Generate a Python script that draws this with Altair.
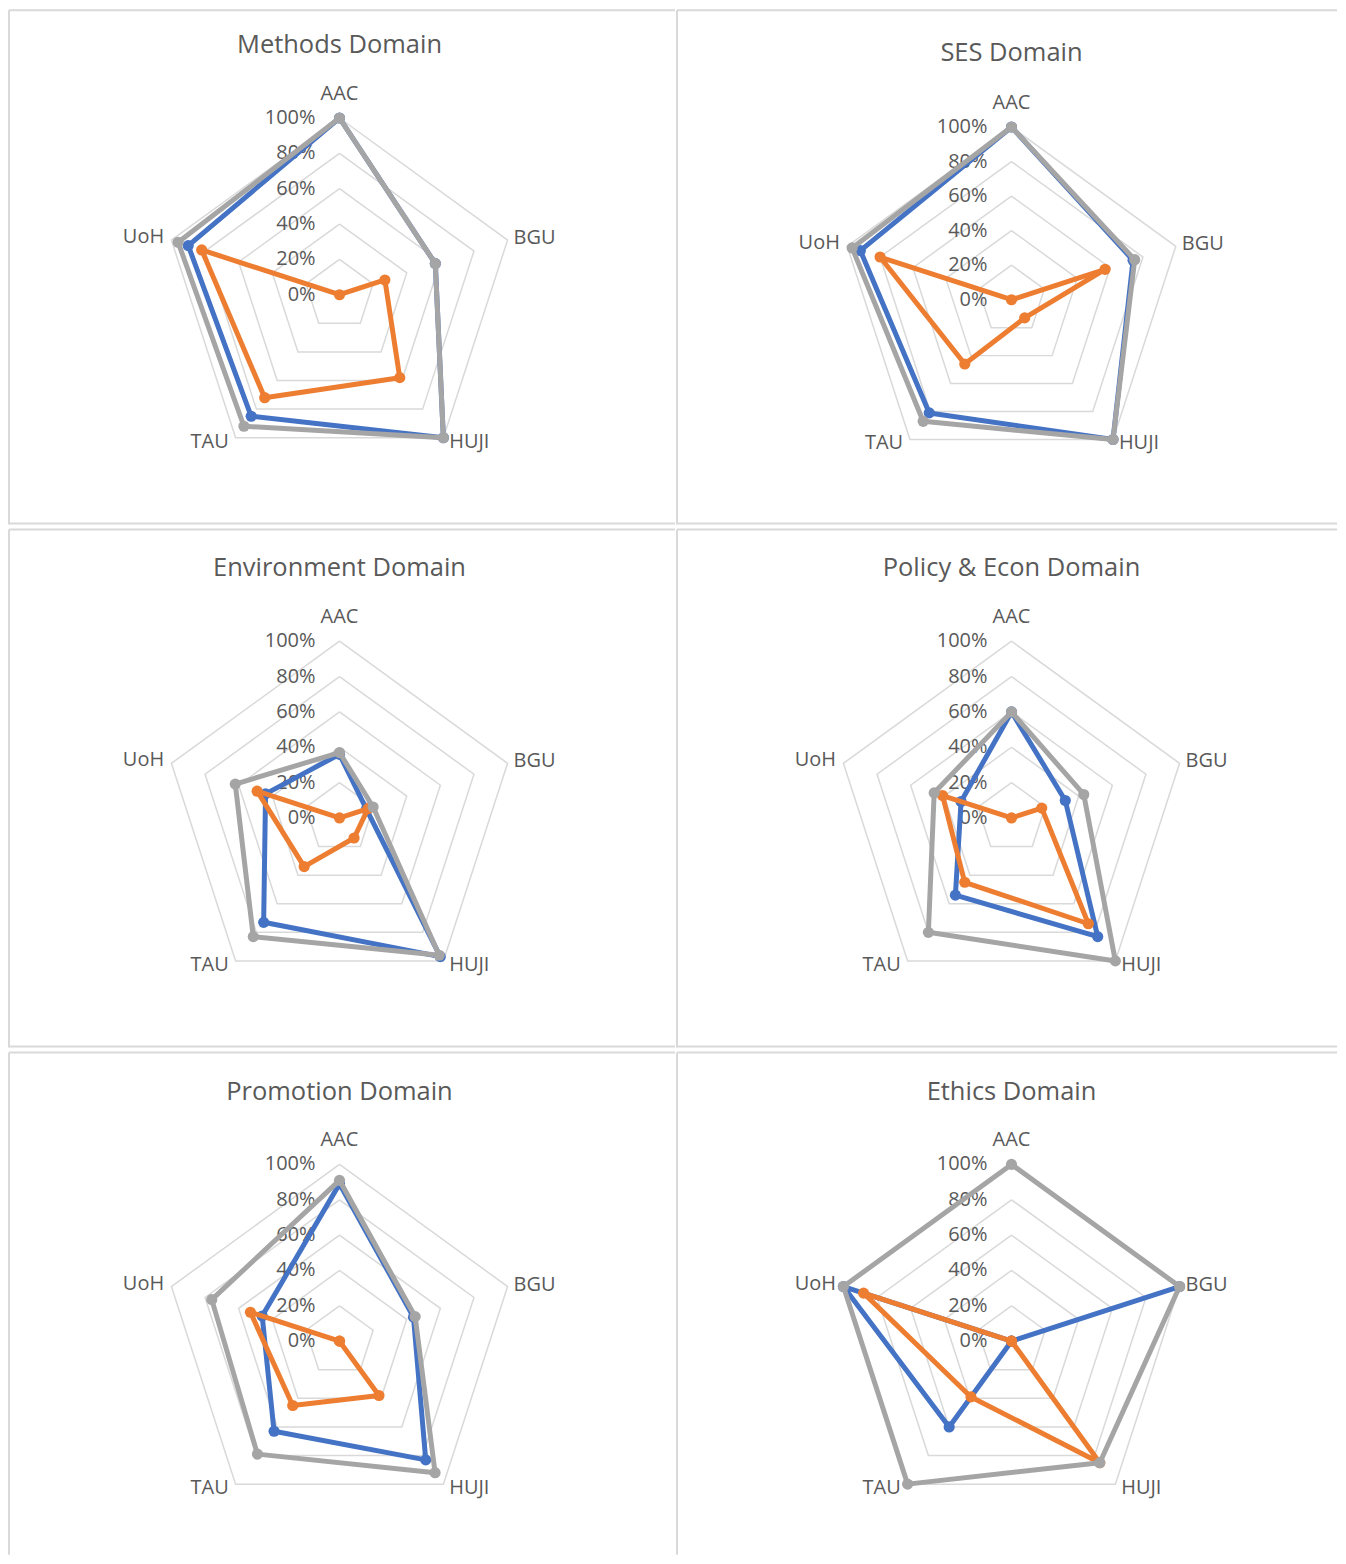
import altair as alt
import pandas as pd

# ---------------- data ----------------
CATEGORIES = ["AAC", "BGU", "HUJI", "TAU", "UoH"]
PANEL_TITLES = ["Methods Domain", "SES Domain", "Environment Domain",
                "Policy & Econ Domain", "Promotion Domain", "Ethics Domain"]
SERIES_NAMES = ["Series1", "Series2", "Series3"]
TICK_LEVELS = [0, 20, 40, 60, 80, 100]

# values in % for AAC, BGU, HUJI, TAU, UoH
methods_s1 = [100, 57, 100, 85, 90]
methods_s2 = [0, 27, 58, 72, 82]
methods_s3 = [100, 57, 100, 92, 96]

ses_s1 = [100, 74, 100, 81, 92]
ses_s2 = [0, 57, 13, 46, 80]
ses_s3 = [100, 75, 100, 87, 97]

env_s1 = [36, 16, 97, 73, 44]
env_s2 = [0, 17, 14, 34, 49]
env_s3 = [37, 20, 96, 83, 62]

policy_s1 = [60, 32, 83, 54, 30]
policy_s2 = [0, 18, 74, 45, 41]
policy_s3 = [60, 43, 100, 80, 46]

promo_s1 = [89, 44, 83, 63, 46]
promo_s2 = [0, 0, 38, 45, 53]
promo_s3 = [91, 45, 92, 79, 76]

ethics_s1 = [0, 100, 0, 60, 100]
ethics_s2 = [0, 0, 85, 39, 88]
ethics_s3 = [100, 100, 85, 100, 100]

PANEL_VALUES = [
    [methods_s1, methods_s2, methods_s3],
    [ses_s1, ses_s2, ses_s3],
    [env_s1, env_s2, env_s3],
    [policy_s1, policy_s2, policy_s3],
    [promo_s1, promo_s2, promo_s3],
    [ethics_s1, ethics_s2, ethics_s3],
]

# ---------------- style / layout ----------------
SERIES_COLORS = ["#4472C4", "#ED7D31", "#A5A5A5"]
GRID = "#D9D9D9"
TEXT = "#595959"
FONT = "Open Sans"
COL_W = [668, 662]
ROW_H = [516, 520, 504]
CENTERS = [(332, 286, 177), (336, 291, 173), (332, 290, 177),
           (336, 290, 177), (332, 290, 177), (336, 290, 177)]
TITLE_Y = [36, 44, 40, 40, 40, 40]
LABEL_OFFSETS = {"AAC": (0, -24), "BGU": (27, -2), "HUJI": (26, 4),
                 "TAU": (-26, 4), "UoH": (-28, -3)}

XEXPR = "datum.v*cos(PI/2 - datum.idx*2*PI/5)"
YEXPR = "datum.v*sin(PI/2 - datum.idx*2*PI/5)"


def polar(ch):
    return ch.transform_calculate(x=XEXPR, y=YEXPR)


def panel(k, W, H, bottom_border):
    cx, cy, R = CENTERS[k]
    xs = alt.Scale(domain=[-cx / R * 100, (W - cx) / R * 100], nice=False, zero=False)
    ys = alt.Scale(domain=[-(H - cy) / R * 100, cy / R * 100], nice=False, zero=False)
    X = alt.X("x:Q", scale=xs, axis=None)
    Y = alt.Y("y:Q", scale=ys, axis=None)
    layers = []

    ring_df = pd.DataFrame([{"level": L, "idx": i, "v": L}
                            for L in TICK_LEVELS[1:] for i in range(6)])
    layers.append(polar(alt.Chart(ring_df)).mark_line(
        color=GRID, strokeWidth=1.5).encode(X, Y, detail="level:N", order="idx:Q"))

    tick_df = pd.DataFrame({"v": TICK_LEVELS, "idx": [0] * len(TICK_LEVELS),
                            "label": [f"{t}%" for t in TICK_LEVELS]})
    layers.append(polar(alt.Chart(tick_df)).mark_text(
        align="right", baseline="middle", dx=-24, font=FONT, fontSize=20,
        color=TEXT).encode(X, Y, text="label:N"))

    cat_df = pd.DataFrame({"cat": CATEGORIES, "idx": list(range(5)), "v": [100] * 5})
    for c in CATEGORIES:
        dx, dy = LABEL_OFFSETS[c]
        layers.append(polar(alt.Chart(cat_df)).transform_filter(
            alt.datum.cat == c).mark_text(
            align="center", baseline="middle", dx=dx, dy=dy, font=FONT,
            fontSize=20, color=TEXT).encode(X, Y, text="cat:N"))

    for s, vals in enumerate(PANEL_VALUES[k]):
        sdf = pd.DataFrame({"series": SERIES_NAMES[s], "idx": list(range(6)),
                            "v": [vals[i % 5] for i in range(6)]})
        layers.append(polar(alt.Chart(sdf)).mark_line(
            color=SERIES_COLORS[s], strokeWidth=5, strokeJoin="round").encode(
            X, Y, order="idx:Q"))
        layers.append(polar(alt.Chart(sdf)).transform_filter(
            alt.datum.idx < 5).mark_circle(
            color=SERIES_COLORS[s], size=125, opacity=1).encode(X, Y))

    layers.append(alt.Chart(pd.DataFrame({"t": [PANEL_TITLES[k]]})).mark_text(
        font=FONT, fontSize=25.5, color=TEXT, baseline="middle").encode(
        x=alt.value(cx), y=alt.value(TITLE_Y[k]), text="t:N"))

    one = pd.DataFrame({"a": [0]})
    layers.append(alt.Chart(one).mark_rule(color=GRID, strokeWidth=2).encode(
        x=alt.value(1), y=alt.value(1), y2=alt.value(H)))
    layers.append(alt.Chart(one).mark_rule(color=GRID, strokeWidth=2).encode(
        x=alt.value(1), x2=alt.value(W), y=alt.value(1)))
    if bottom_border:
        layers.append(alt.Chart(one).mark_rule(color=GRID, strokeWidth=2).encode(
            x=alt.value(1), x2=alt.value(W), y=alt.value(H - 1)))

    return alt.layer(*layers).properties(width=W, height=H)


rows = []
for r in range(3):
    p = [panel(r * 2 + c, COL_W[c], ROW_H[r], r < 2) for c in range(2)]
    rows.append(alt.hconcat(*p, spacing=0))

chart = alt.vconcat(*rows, spacing=3).properties(
    padding=0, background="white").configure_view(strokeWidth=0)

chart.save("out.html", embed_options={"renderer": "svg", "actions": False})
